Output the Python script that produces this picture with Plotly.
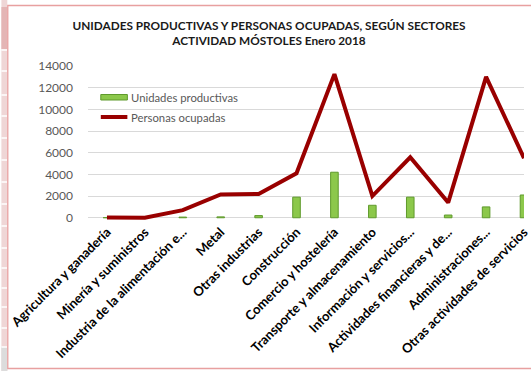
import plotly.graph_objects as go

# Sectores de actividad (etiquetas tal como aparecen en el eje)
sectores = [
    "Agricultura y ganadería",
    "Minería y suministros",
    "Industria de la alimentación e...",
    "Metal",
    "Otras industrias",
    "Construcción",
    "Comercio y hostelería",
    "Transporte y almacenamiento",
    "Información y servicios...",
    "Actividades financieras y de...",
    "Administraciones...",
    "Otras actividades de servicios",
]
unidades_productivas = [10, 5, 60, 80, 200, 1900, 4200, 1150, 1900, 250, 1000, 2100]
personas_ocupadas = [30, 10, 700, 2150, 2200, 4100, 13250, 2000, 5580, 1400, 13000, 5500]
y_ticks = [0, 2000, 4000, 6000, 8000, 10000, 12000, 14000]

W, H = 531, 371
L, R, T, B = 88, 0, 66, 150
plot_w, plot_h = W - L - R, H - T - B

BAR_FILL, BAR_EDGE = "#8cc84b", "#5f9a2c"
LINE_COLOR = "#990000"


def px_x(px):
    return (px - L) / plot_w


def px_y(py):
    return (H - B - py) / plot_h


fig = go.Figure()
fig.add_trace(go.Bar(
    x=list(range(len(sectores))), y=unidades_productivas,
    name="Unidades productivas", width=0.2, showlegend=False,
    marker=dict(color=BAR_FILL, line=dict(color=BAR_EDGE, width=1)),
))
fig.add_trace(go.Scatter(
    x=list(range(len(sectores))), y=personas_ocupadas,
    name="Personas ocupadas", mode="lines", showlegend=False,
    line=dict(color=LINE_COLOR, width=4),
))

shapes = []
# franja de la hoja de cálculo a la izquierda
shapes.append(dict(type="rect", xref="paper", yref="paper",
                   x0=px_x(0), x1=px_x(6), y0=px_y(0), y1=px_y(371),
                   fillcolor="#efd6d6", line=dict(width=0), layer="below"))
shapes.append(dict(type="rect", xref="paper", yref="paper",
                   x0=px_x(0), x1=px_x(6), y0=px_y(7), y1=px_y(49),
                   fillcolor="#e4b5b5", line=dict(width=0), layer="below"))
shapes.append(dict(type="rect", xref="paper", yref="paper",
                   x0=px_x(0), x1=px_x(6), y0=px_y(347), y1=px_y(371),
                   fillcolor="#dcdcdc", line=dict(width=0), layer="below"))
for yy in [50, 71, 95, 116, 138, 160, 182, 204, 226, 248, 268, 288, 307, 328, 347]:
    shapes.append(dict(type="line", xref="paper", yref="paper",
                       x0=px_x(0), x1=px_x(6), y0=px_y(yy), y1=px_y(yy),
                       line=dict(color="#ffffff", width=1.5), layer="below"))
# borde del gráfico
shapes.append(dict(type="rect", xref="paper", yref="paper",
                   x0=px_x(6.5), x1=px_x(560), y0=px_y(368.5), y1=px_y(5.5),
                   line=dict(color="#e8a0a0", width=1.3), layer="below"))

# leyenda
legend_items = [("Unidades productivas", 97), ("Personas ocupadas", 117)]
shapes.append(dict(type="rect", xref="paper", yref="paper",
                   x0=px_x(101), x1=px_x(128), y0=px_y(100), y1=px_y(94.5),
                   fillcolor=BAR_FILL, line=dict(color=BAR_EDGE, width=1)))
shapes.append(dict(type="line", xref="paper", yref="paper",
                   x0=px_x(101), x1=px_x(128), y0=px_y(117), y1=px_y(117),
                   line=dict(color=LINE_COLOR, width=4)))
annotations = [
    dict(text=txt, xref="paper", yref="paper", x=px_x(130), y=px_y(yy),
         xanchor="left", yanchor="middle", showarrow=False,
         font=dict(family="Lato", size=11.3, color="#595959"))
    for txt, yy in legend_items
]

fig.update_layout(
    width=W, height=H,
    margin=dict(l=L, r=R, t=T, b=B),
    paper_bgcolor="white", plot_bgcolor="white",
    barmode="overlay",
    shapes=shapes,
    annotations=annotations,
    showlegend=False,
    title=dict(
        text="UNIDADES PRODUCTIVAS Y PERSONAS OCUPADAS, SEGÚN SECTORES<br>ACTIVIDAD MÓSTOLES Enero 2018",
        x=269 / W, xanchor="center", xref="container",
        y=1 - 30 / H, yanchor="top", yref="container",
        font=dict(family="Lato", size=11.8, color="#1a1a1a", weight="bold"),
    ),
    xaxis=dict(
        range=[-0.5, 11.0], tickmode="array",
        tickvals=list(range(len(sectores))), ticktext=sectores,
        tickangle=-45, showgrid=False, zeroline=False, showline=False,
        ticks="", ticklabeloverflow="allow",
        tickfont=dict(family="Lato", size=13, color="#000000", weight="bold"),
    ),
    yaxis=dict(
        range=[-300, 14000], tickmode="array", tickvals=y_ticks,
        ticktext=[str(v) for v in y_ticks],
        showgrid=True, gridcolor="#d9d9d9", gridwidth=1, zeroline=False,
        showline=False, ticks="", ticklabelstandoff=14,
        tickfont=dict(family="Lato", size=12, color="#595959"),
    ),
)

fig.write_html("out.html")
